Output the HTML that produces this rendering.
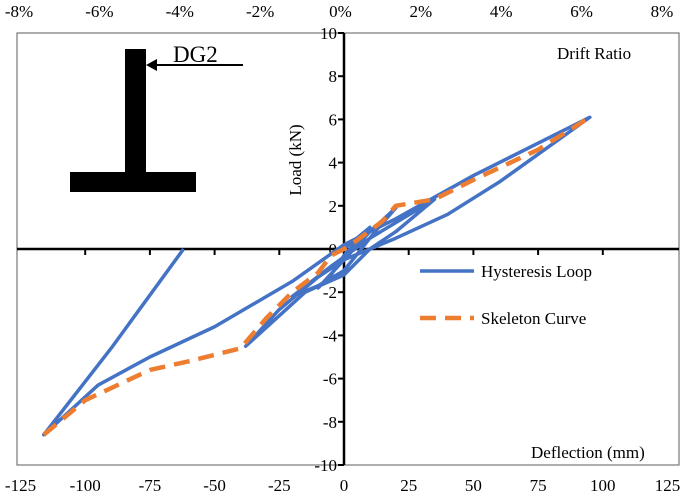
<!DOCTYPE html>
<html><head><meta charset="utf-8"><style>
body{margin:0;background:#fff}
svg text{font-family:"Liberation Serif",serif;fill:#000}
</style></head><body>
<svg width="685" height="497" viewBox="0 0 685 497">
<rect x="17" y="33" width="662" height="432" fill="none" stroke="#777" stroke-width="1.2"/>
<g id="axes"></g>
<g id="series"></g>
<g>
<rect x="125" y="49" width="21" height="124" fill="#000"/>
<rect x="70" y="172" width="126" height="20" fill="#000"/>
<line x1="243" y1="65" x2="155" y2="65" stroke="#000" stroke-width="2"/>
<polygon points="146,65 157,59 157,71" fill="#000"/>
<text x="173" y="62" font-size="23">DG2</text>
</g>
<text x="557" y="59" font-size="17">Drift Ratio</text>
<text x="531" y="458" font-size="17">Deflection (mm)</text>
<text transform="translate(301,160) rotate(-90)" text-anchor="middle" font-size="17">Load (kN)</text>
<g>
<line x1="420" y1="271" x2="474" y2="271" stroke="#4472C4" stroke-width="3.5"/>
<text x="481" y="277" font-size="17">Hysteresis Loop</text>
<line x1="420" y1="318" x2="474" y2="318" stroke="#ED7D31" stroke-width="4.5" stroke-dasharray="16,9"/>
<text x="481" y="324" font-size="17">Skeleton Curve</text>
</g>
</svg>
<script>
const xTicks=[-125,-100,-75,-50,-25,0,25,50,75,100,125];
const yTicks=[-10,-8,-6,-4,-2,0,2,4,6,8,10];
const driftTicks=["-8%","-6%","-4%","-2%","0%","2%","4%","6%","8%"];
const hystX=[0,5,10,0,-5,-10,0,10,20,12,0,-10,-20,-5,10,35,20,10,0,-15,-38,-25,-10,0,20,40,60,95,50,20,0,-20,-50,-75,-95,-116,-90,-62];
const hystY=[0,0.5,1,-0.3,-1.2,-1.8,-0.5,0.8,1.9,0.8,-1.0,-1.7,-2.2,-0.8,0.5,2.3,0.8,0,-1.2,-2,-4.5,-2.8,-1.3,-0.5,0.5,1.6,3.1,6.1,3.4,1.4,0.2,-1.5,-3.6,-5,-6.3,-8.6,-4.6,0];
const skelX=[-116,-100,-75,-60,-40,-30,-20,-10,-5,0,5,15,20,35,50,75,95];
const skelY=[-8.6,-7,-5.6,-5.2,-4.6,-3.2,-2,-1.1,-0.3,0,0.4,1.3,2,2.3,3.2,4.6,6.1];
const X=v=>344+v*2.588, Y=v=>249-v*21.6;
const NS="http://www.w3.org/2000/svg";
function mk(t,a,p){const e=document.createElementNS(NS,t);for(const k in a)e.setAttribute(k,a[k]);p.appendChild(e);return e;}
const ax=document.getElementById('axes'), se=document.getElementById('series');
let l=mk('line',{x1:17,y1:Y(0),x2:679,y2:Y(0),stroke:'#000','stroke-width':2.5},ax);


l=mk('line',{x1:X(0),y1:33,x2:X(0),y2:465,stroke:'#000','stroke-width':2.5},ax);


xTicks.forEach(v=>{
  if(v>-125&&v<125){const t=mk('line',{x1:X(v),y1:Y(0),x2:X(v),y2:Y(0)+6,stroke:'#000','stroke-width':2},ax);
  
  }
  const tx=mk('text',{x:X(v),y:491,'text-anchor':'middle','font-size':17},ax);tx.textContent=v;
  
  
});
yTicks.forEach(v=>{
  const t=mk('line',{x1:X(0)-6,y1:Y(v),x2:X(0),y2:Y(v),stroke:'#000','stroke-width':2},ax);
  
  
  const tx=mk('text',{x:X(0)-7,y:Y(v)+6,'text-anchor':'end','font-size':17},ax);tx.textContent=v;
  
  
});
driftTicks.forEach((s,i)=>{
  const tx=mk('text',{x:17+i*(643/8)+2,y:17,'text-anchor':'middle','font-size':17},ax);tx.textContent=s;
  
  
});
const hp=mk('polyline',{points:hystX.map((v,i)=>X(v)+','+Y(hystY[i])).join(' '),fill:'none',stroke:'#4472C4','stroke-width':3.5,'stroke-linejoin':'round'},se);


const sp=mk('polyline',{points:skelX.map((v,i)=>X(v)+','+Y(skelY[i])).join(' '),fill:'none',stroke:'#ED7D31','stroke-width':4.5,'stroke-dasharray':'16,9','stroke-linejoin':'round'},se);


</script>
</body></html>
